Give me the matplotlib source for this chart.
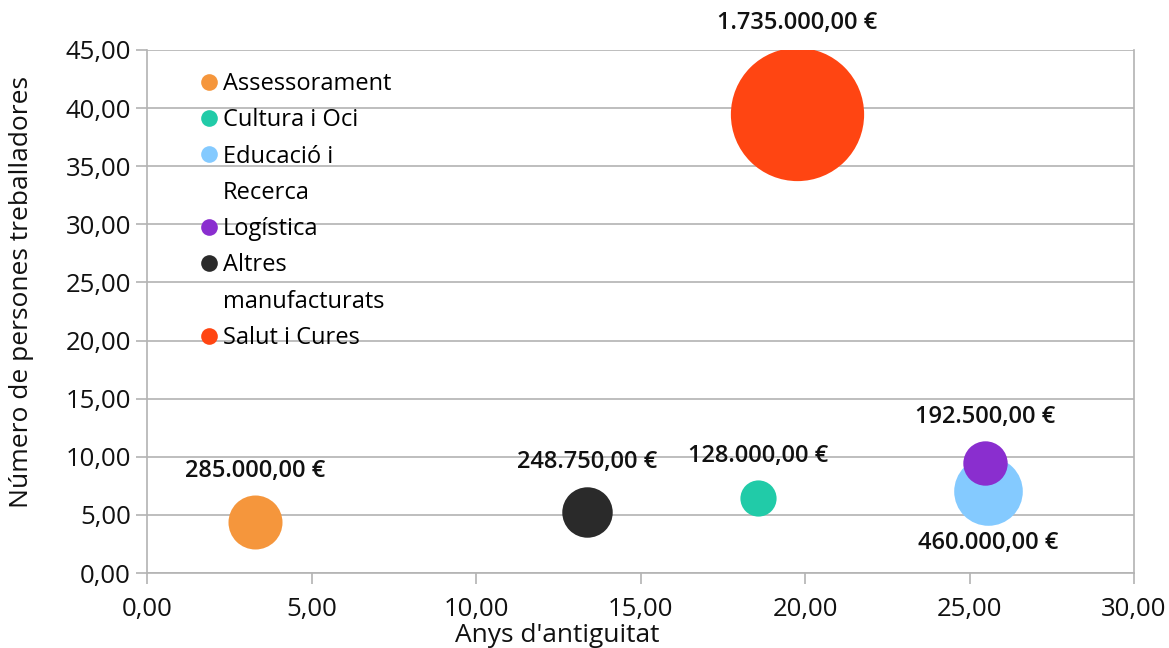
import matplotlib
matplotlib.use("Agg")
import matplotlib.pyplot as plt
from matplotlib.ticker import FuncFormatter, MultipleLocator
from matplotlib.lines import Line2D

categories = ["Assessorament", "Cultura i Oci", "Educació i\nRecerca", "Logística",
              "Altres\nmanufacturats", "Salut i Cures"]
years = [3.28, 18.57, 25.56, 25.47, 13.37, 19.76]
workers = [4.39, 6.45, 7.06, 9.46, 5.25, 39.5]
amounts = [285000, 128000, 460000, 192500, 248750, 1735000]
amount_labels = ["285.000,00 €", "128.000,00 €", "460.000,00 €", "192.500,00 €",
                 "248.750,00 €", "1.735.000,00 €"]
colors = ["#f5963c", "#21cba8", "#84caff", "#8a2ecf", "#2a2a2a", "#ff4512"]
label_pos = ["above", "above", "below", "above", "above", "above"]

FONT = ["Open Sans", "DejaVu Sans"]
plt.rcParams["font.family"] = FONT

fig = plt.figure(figsize=(11.69, 6.48), dpi=100)
ax = fig.add_axes([147/1169, 1 - 573/648, (1134-147)/1169, (573-50)/648])

scale = 1512 / 285000
for i in range(len(categories)):
    ax.scatter(years[i], workers[i], s=amounts[i] * scale, color=colors[i],
               zorder=3, linewidths=0)

for i in range(len(categories)):
    r_pt = (amounts[i] * scale) ** 0.5 / 2
    off = r_pt + 17.5 if label_pos[i] == "above" else -(r_pt + 12.5)
    ax.annotate(amount_labels[i], (years[i], workers[i]), xytext=(0, off),
                textcoords="offset points", ha="center", va="center",
                fontsize=17, fontweight="semibold", color="#111111", zorder=4)

ax.set_xlim(0, 30)
ax.set_ylim(0, 45)
ax.xaxis.set_major_locator(MultipleLocator(5))
ax.yaxis.set_major_locator(MultipleLocator(5))
fmt = FuncFormatter(lambda v, p: f"{v:.2f}".replace(".", ","))
ax.xaxis.set_major_formatter(fmt)
ax.yaxis.set_major_formatter(fmt)
ax.tick_params(axis="both", labelsize=18.5, color="#b3b3b3", length=8, width=1.2,
               labelcolor="#111111")
ax.tick_params(axis="x", pad=9)
ax.grid(True, axis="y", color="#b3b3b3", linewidth=1.2, zorder=0)
ax.set_axisbelow(True)
for side in ["left", "bottom", "right", "top"]:
    ax.spines[side].set_color("#b3b3b3")
    ax.spines[side].set_linewidth(1.2)
ax.spines["top"].set_visible(False)

fig.text(557/1169, 1 - 636/648, "Anys d'antiguitat", fontsize=19, color="#111111",
         ha="center", va="center")
fig.text(22/1169, 1 - 292/648, "Número de persones treballadores", fontsize=19,
         color="#111111", ha="center", va="center", rotation=90)

# legend: wrapped labels split into separate rows for even line spacing
leg_labels = []
leg_handles = []
for c, lab in zip(colors, categories):
    parts = lab.split("\n")
    leg_labels.append(parts[0])
    leg_handles.append(Line2D([0], [0], marker="o", linestyle="none", markersize=12,
                              markerfacecolor=c, markeredgewidth=0))
    for extra in parts[1:]:
        leg_labels.append(extra)
        leg_handles.append(Line2D([0], [0], marker="o", linestyle="none", markersize=12,
                                  markerfacecolor="none", markeredgewidth=0))
leg = ax.legend(leg_handles, leg_labels, loc="upper left", bbox_to_anchor=(0.042, 0.976),
                frameon=False, fontsize=17, handletextpad=0.15, labelspacing=0.52,
                handlelength=0.9, borderaxespad=0)

fig.savefig("out.png", dpi=100)
